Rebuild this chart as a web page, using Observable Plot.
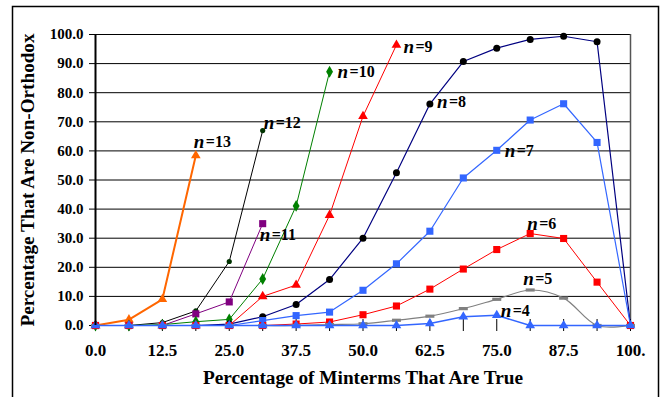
<!DOCTYPE html>
<html>
<head>
<meta charset="utf-8">
<script src="https://cdn.jsdelivr.net/npm/d3@7"></script>
<script src="https://cdn.jsdelivr.net/npm/@observablehq/plot@0.6"></script>
<style>
  html, body { margin: 0; padding: 0; background: #fff; }
  #chart { position: relative; width: 662px; height: 397px; overflow: hidden; }
</style>
</head>
<body>
<div id="chart"></div>
<script>
// x positions: percentage of minterms true (k/16)
const xValues = [0, 6.25, 12.5, 18.75, 25, 31.25, 37.5, 43.75, 50, 56.25, 62.5, 68.75, 75, 81.25, 87.5, 93.75, 100];
const xLabelTicks = [0, 12.5, 25, 37.5, 50, 62.5, 75, 87.5, 100];
const yTicks = [0, 10, 20, 30, 40, 50, 60, 70, 80, 90, 100];

const n13 = [0, 2, 9, 58.4];
const n12 = [0, 0, 1, 5, 22, 67];
const n11 = [0, 0, 0, 4, 8.1, 35];
const n10 = [0, 0, 0.3, 1.3, 2.1, 16, 41.1, 87.2];
const n9  = [0, 0, 0, 0, 0, 10, 13.9, 37.9, 71.9, 96.4];
const n8  = [0, 0, 0, 0, 0.5, 3, 7.2, 15.8, 30, 52.5, 76.1, 90.7, 95.3, 98.3, 99.4, 97.5, 0];
const n7  = [0, 0, 0, 0, 0, 1.7, 3.4, 4.6, 12.1, 21.2, 32.4, 50.7, 60.2, 70.6, 76.2, 62.9, 0];
const n6  = [0, 0, 0, 0, 0, 0, 0.5, 1.2, 3.7, 6.7, 12.5, 19.4, 26.1, 31.6, 29.9, 14.9, 0];
const n5  = [0, 0, 0, 0, 0, 0, 0, 0.3, 0.6, 1.8, 3.2, 5.8, 9.0, 12.2, 9.4, 0, 0];
const n4  = [0, 0, 0, 0, 0, 0, 0, 0, 0, 0, 0.7, 3.0, 3.5, 0, 0, 0, 0];

const seriesNames = ["13", "12", "11", "10", "9", "8", "7", "6", "5", "4"];
const seriesValues = [n13, n12, n11, n10, n9, n8, n7, n6, n5, n4];

// label anchor: index of the point the label is attached to
const labelAnchorIndex = [3, 5, 5, 7, 9, 10, 12, 13, 13, 12];

// styling (kept apart from data)
const dashSymbol = { draw(ctx) { ctx.rect(-4.5, -1.6, 9, 3.2); } };
const styles = {
  "13": { stroke: "#FF6600", fill: "#FF6600", sw: 2,   symbol: "triangle", r: 3.6 },
  "12": { stroke: "#000000", fill: "#003300", sw: 1,   symbol: "circle",   r: 2.6 },
  "11": { stroke: "#800080", fill: "#800080", sw: 1,   symbol: "square",   r: 4.0 },
  "10": { stroke: "#008000", fill: "#008000", sw: 1,   symbol: "diamond",  r: 3.6 },
  "9":  { stroke: "#FF0000", fill: "#FF0000", sw: 1,   symbol: "triangle", r: 3.6 },
  "8":  { stroke: "#000080", fill: "#000000", sw: 1.2, symbol: "circle",   r: 3.5 },
  "7":  { stroke: "#3366FF", fill: "#3366FF", sw: 1.2, symbol: "square",   r: 4.0 },
  "6":  { stroke: "#FF0000", fill: "#FF0000", sw: 1,   symbol: "square",   r: 4.0 },
  "5":  { stroke: "#808080", fill: "#808080", sw: 1.2, symbol: dashSymbol, r: 3, curve: "catmull-rom" },
  "4":  { stroke: "#3366FF", fill: "#3366FF", sw: 1.5, symbol: "triangle", r: 3.6 }
};
const labelOffsets = {
  "13": [-2, -14], "12": [1, -8], "11": [-3, 11], "10": [8, 0], "9": [7, 2],
  "8": [7, -2], "7": [8, 1], "6": [-3, -10], "5": [-7, -11], "4": [4, -4]
};

const serif = "'Liberation Serif', 'Times New Roman', Times, serif";

const seriesMarks = [];
const labelMarks = [];
seriesNames.forEach((name, si) => {
  const vals = seriesValues[si];
  const rows = vals.map((v, i) => ({ x: xValues[i], y: v, n: name }));
  const st = styles[name];
  seriesMarks.push(Plot.line(rows, { x: "x", y: "y", stroke: st.stroke, strokeWidth: st.sw, curve: st.curve || "linear" }));
  seriesMarks.push(Plot.dot(rows, { x: "x", y: "y", symbol: () => st.symbol, fill: st.fill, stroke: "none", r: st.r }));
  const ai = labelAnchorIndex[si];
  const anchor = [{ x: xValues[ai], y: vals[ai] }];
  const [dx, dy] = labelOffsets[name];
  labelMarks.push(Plot.text(anchor, { x: "x", y: "y", text: () => "n", dx, dy, textAnchor: "start", lineAnchor: "middle",
    fontStyle: "italic", fontWeight: "bold", fontSize: 19, fontFamily: serif, fill: "#000" }));
  labelMarks.push(Plot.text(anchor, { x: "x", y: "y", text: () => "=" + name, dx: dx + 12, dy, textAnchor: "start", lineAnchor: "middle",
    fontWeight: "bold", fontSize: 16, fontFamily: serif, fill: "#000" }));
});

const chart = Plot.plot({
  width: 662,
  height: 397,
  marginLeft: 95,
  marginRight: 32,
  marginTop: 34,
  marginBottom: 72,
  style: { fontFamily: serif, background: "#fff", overflow: "visible" },
  x: { domain: [0, 100] },
  y: { domain: [0, 100] },
  marks: [
    Plot.ruleY(yTicks.filter(d => d > 0 && d < 100), { stroke: "#000", strokeWidth: 1 }),
    Plot.ruleY([100], { stroke: "#000", strokeWidth: 1.2 }),
    Plot.ruleX([100], { stroke: "#555", strokeWidth: 1.5 }),
    Plot.axisY({ ticks: yTicks, tickFormat: d => d.toFixed(1), tickSize: 6, tickPadding: 6,
      fontSize: 15, fontWeight: "bold", fill: "#000", fontFamily: serif,
      label: "Percentage That Are Non-Orthodox", labelAnchor: "center", labelArrow: "none", labelOffset: 74 }),
    Plot.axisX({ ticks: xValues, tickSize: 12, dy: -6, tickFormat: () => "", label: null }),
    Plot.axisX({ ticks: xLabelTicks, tickSize: 0, tickPadding: 18, fontSize: 17, fontWeight: "bold", fill: "#000", fontFamily: serif,
      tickFormat: d => d === 100 ? "100." : d.toFixed(1),
      label: "Percentage of Minterms That Are True", labelAnchor: "center", labelArrow: "none", labelOffset: 58 }),
    ...seriesMarks,
    Plot.ruleX([0], { stroke: "#000", strokeWidth: 2 }),
    ...labelMarks
  ]
});

// bold, slightly widened axis titles (the reference type is horizontally stretched)
d3.select(chart).selectAll("g[aria-label='y-axis label'] text")
  .attr("font-weight", "bold").attr("font-size", 18).attr("fill", "#000")
  .attr("textLength", 293).attr("lengthAdjust", "spacingAndGlyphs");
d3.select(chart).selectAll("g[aria-label='x-axis label'] text")
  .attr("font-weight", "bold").attr("font-size", 18).attr("fill", "#000")
  .attr("textLength", 320).attr("lengthAdjust", "spacingAndGlyphs");

// outer chart frame
d3.select(chart).append("rect")
  .attr("x", 12.5).attr("y", 6.5).attr("width", 646).attr("height", 400)
  .attr("fill", "none").attr("stroke", "#000").attr("stroke-width", 1.5);

document.getElementById("chart").appendChild(chart);
</script>
</body>
</html>
